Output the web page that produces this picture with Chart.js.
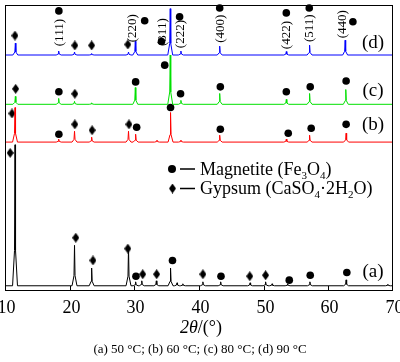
<!DOCTYPE html>
<html>
<head>
<meta charset="utf-8">
<script src="https://cdn.jsdelivr.net/npm/chart.js@4/dist/chart.umd.min.js"></script>
<style>
body { margin: 0; background: #fff; }
#wrap { width: 400px; height: 362px; position: relative; }
</style>
</head>
<body>
<div id="wrap"><canvas id="xrd"></canvas></div>
<script>
// x axis ticks (2theta, degrees)
const xTicks = [10, 20, 30, 40, 50, 60, 70];

// vertical offset of each pattern (a..d), same units as intensity
const offsets = [5.3, 151, 189.3, 239.3];

// peak positions and heights
const peaksA   = [11.55, 20.75, 23.4, 29.1, 30.2, 31.15, 33.4, 35.6, 36.6, 37.5, 40.6, 43.35, 47.9, 50.3, 51.3, 53.7, 57.15, 62.75, 69.2];
const heightsA = [143,   41,    18,   39,   4,    5,     5,    18,   3,    2,    4,    4,     3,    4,    2,    2,    4,     6,     1.5];

const peaksB   = [11.55, 18.3, 20.75, 23.4, 29.1, 30.2, 33.5, 35.6, 37.2, 43.2, 53.5, 57.1, 62.75];
const heightsB = [35,    3,    11,    5,    11,   8,    2,    30,   2,    7,    3,    7,    9];

const peaksC   = [11.6, 18.3, 20.75, 23.4, 30.15, 35.55, 37.2, 43.2, 53.5, 57.1, 62.7];
const heightsC = [8,    6,    3,     1.5,  17,    50,    4,    11,   5,    11,   15];

const peaksD   = [11.6, 18.3, 20.75, 23.4, 29.1, 30.15, 35.55, 37.2, 43.2, 53.5, 57.1, 62.6];
const heightsD = [12,   4,    3,     1.5,  3,    14,    47,    4,    9,    3.5,  10,   15];

// phase markers (x = 2theta, y = same units as intensity)
const magX = [18.33, 31.6, 34.2, 37.0, 43.2, 53.5, 57.05, 63.8,
              18.33, 30.2, 34.7, 37.15, 43.3, 53.5, 57.2, 62.75,
              18.33, 30.36, 35.6, 43.3, 53.8, 57.35, 62.75,
              30.25, 35.9, 43.4, 53.96, 57.2, 62.86];
const magY = [284, 274, 253, 278, 287, 282, 287, 273,
              202, 212, 229, 200, 207, 202, 207, 213,
              159, 166, 186, 164, 160, 165, 169,
              15, 31, 15, 11, 16, 18.7];

const gypX = [11.54, 20.8, 23.4, 29.0,
              11.65, 20.8,
              11.08, 20.8, 23.47, 29.17,
              10.8, 20.95, 23.6, 29.0, 31.3, 33.45, 40.6, 47.85, 50.3];
const gypY = [259, 249, 249, 250,
              205, 200,
              180, 169, 163, 169,
              140, 54, 31, 43, 17, 17, 17, 15, 16];

// Miller indices written above pattern (d)
const hklText = ['(111)', '(220)', '(311)', '(222)', '(400)', '(422)', '(511)', '(440)'];
const hklX    = [18.48, 29.74, 34.37, 37.15, 43.32, 53.5, 57.05, 62.14];
const hklY    = [262, 266.5, 262.5, 260.5, 266, 259.5, 266.5, 270.5];

const seriesNames = ['(a)', '(b)', '(c)', '(d)'];
const seriesColors = ['#000000', '#ff0000', '#00e000', '#0000ff'];

// baseline - foot - apex - foot - baseline for every peak
function pattern(base, pos, hts) {
    const pts = [{x: 10, y: base}];
    pos.forEach((p, i) => {
        pts.push({x: p - 0.38, y: base});
        pts.push({x: p - 0.08, y: base + hts[i] * 0.25});
        pts.push({x: p, y: base + hts[i]});
        pts.push({x: p + 0.08, y: base + hts[i] * 0.25});
        pts.push({x: p + 0.38, y: base});
    });
    pts.push({x: 70, y: base});
    return pts;
}

function diamond(w, h) {
    const c = document.createElement('canvas');
    c.width = w; c.height = h;
    const g = c.getContext('2d');
    g.fillStyle = '#000';
    g.beginPath();
    g.moveTo(w / 2, 0); g.lineTo(w, h / 2); g.lineTo(w / 2, h); g.lineTo(0, h / 2);
    g.closePath();
    g.fill();
    return c;
}
const diamondImg = diamond(7, 10);

const serif = "'Liberation Serif', 'Times New Roman', serif";

// text made of normal + subscript parts
function richText(ctx, parts, x, y, size) {
    parts.forEach(p => {
        if (p.sub) {
            ctx.font = Math.round(size * 0.62) + 'px ' + serif;
            ctx.fillText(p.t, x, y + size * 0.22);
        } else {
            ctx.font = (p.it ? 'italic ' : '') + size + 'px ' + serif;
            ctx.fillText(p.t, x, y);
        }
        x += ctx.measureText(p.t).width;
    });
}
function richWidth(ctx, parts, size) {
    let w = 0;
    parts.forEach(p => {
        ctx.font = (p.it ? 'italic ' : '') + (p.sub ? Math.round(size * 0.62) : size) + 'px ' + serif;
        w += ctx.measureText(p.t).width;
    });
    return w;
}

const decor = {
    id: 'decor',
    afterDatasetsDraw(chart) {
        const ctx = chart.ctx;
        const a = chart.chartArea;
        const xs = chart.scales.x, ys = chart.scales.y;
        ctx.save();
        ctx.fillStyle = '#000';
        ctx.strokeStyle = '#000';

        // frame
        ctx.lineWidth = 1;
        ctx.strokeRect(a.left + 0.5, a.top + 0.5, a.right - a.left - 1, a.bottom - a.top - 1);

        // ticks and tick labels
        ctx.font = '18px ' + serif;
        ctx.textAlign = 'center';
        ctx.textBaseline = 'alphabetic';
        xTicks.forEach(t => {
            const px = Math.round(xs.getPixelForValue(t)) + 0.5;
            if (t > 10 && t < 70) {
                ctx.beginPath();
                ctx.moveTo(px, a.bottom);
                ctx.lineTo(px, a.bottom - 5);
                ctx.stroke();
            }
            ctx.fillText(String(t), px + 1, a.bottom + 22);
        });

        // axis title
        ctx.textAlign = 'left';
        const title = [{t: '2\u03b8', it: true}, {t: '/(\u00b0)'}];
        const tw = richWidth(ctx, title, 18);
        richText(ctx, title, (a.left + a.right) / 2 - tw / 2 + 2, a.bottom + 42, 18);

        // caption
        ctx.font = '13px ' + serif;
        ctx.textAlign = 'center';
        ctx.fillText('(a) 50 \u00b0C; (b) 60 \u00b0C; (c) 80 \u00b0C; (d) 90 \u00b0C', 200, 353);

        // series labels
        ctx.font = '19px ' + serif;
        const labY = [14, 163, 198, 246];
        seriesNames.forEach((n, i) => {
            ctx.fillText(n, xs.getPixelForValue(66.9), ys.getPixelForValue(labY[i]));
        });

        // hkl labels, rotated
        ctx.font = '13px ' + serif;
        ctx.textBaseline = 'middle';
        hklText.forEach((t, i) => {
            ctx.save();
            ctx.translate(xs.getPixelForValue(hklX[i]), ys.getPixelForValue(hklY[i]));
            ctx.rotate(-Math.PI / 2);
            ctx.fillText(t, 0, 0);
            ctx.restore();
        });

        // legend
        ctx.textBaseline = 'alphabetic';
        ctx.textAlign = 'left';
        ctx.lineWidth = 1.5;
        ctx.beginPath();
        ctx.arc(172, 169, 4, 0, Math.PI * 2);
        ctx.fill();
        ctx.beginPath();
        ctx.moveTo(180, 169); ctx.lineTo(195, 169);
        ctx.moveTo(180, 188.5); ctx.lineTo(195, 188.5);
        ctx.stroke();
        ctx.drawImage(diamondImg, 169, 183.5);
        richText(ctx, [{t: 'Magnetite (Fe'}, {t: '3', sub: true}, {t: 'O'}, {t: '4', sub: true}, {t: ')'}], 200, 175, 18);
        richText(ctx, [{t: 'Gypsum (CaSO'}, {t: '4', sub: true}, {t: '\u00b72H'}, {t: '2', sub: true}, {t: 'O)'}], 200, 194, 18);

        ctx.restore();
    }
};

const lineData = [
    pattern(offsets[0], peaksA, heightsA),
    pattern(offsets[1], peaksB, heightsB),
    pattern(offsets[2], peaksC, heightsC),
    pattern(offsets[3], peaksD, heightsD)
];

new Chart(document.getElementById('xrd').getContext('2d'), {
    type: 'line',
    data: {
        datasets: [
            ...lineData.map((pts, i) => ({
                label: seriesNames[i],
                data: pts,
                borderColor: seriesColors[i],
                borderWidth: 1,
                pointRadius: 0,
                tension: 0,
                fill: false
            })),
            {
                type: 'scatter',
                label: 'Magnetite',
                data: magX.map((x, i) => ({x: x, y: magY[i]})),
                pointStyle: 'circle',
                pointRadius: 3.8,
                backgroundColor: '#000',
                borderColor: '#000',
                borderWidth: 0,
                clip: false
            },
            {
                type: 'scatter',
                label: 'Gypsum',
                data: gypX.map((x, i) => ({x: x, y: gypY[i]})),
                pointStyle: diamondImg,
                clip: false
            }
        ]
    },
    options: {
        responsive: true,
        maintainAspectRatio: false,
        animation: false,
        layout: {padding: {left: 4, top: 1, right: 7, bottom: 71}},
        plugins: {legend: {display: false}, tooltip: {enabled: false}},
        scales: {
            x: {type: 'linear', min: 10, max: 70, display: false},
            y: {type: 'linear', min: 0, max: 290, display: false}
        }
    },
    plugins: [decor]
});
</script>
</body>
</html>
